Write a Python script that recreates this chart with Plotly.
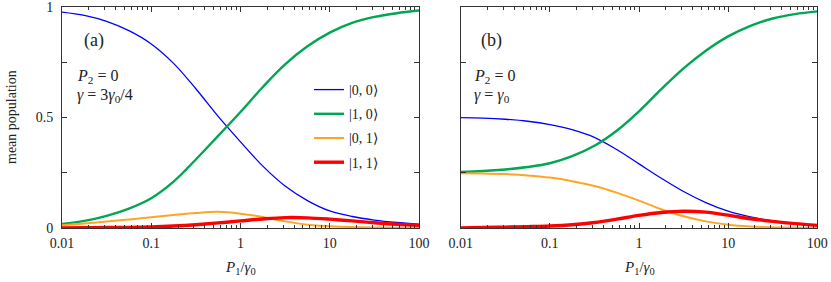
import plotly.graph_objects as go

# P1/gamma0 sample points (quarter decades from 0.01 to 100)
p1 = [0.01, 0.0178, 0.0316, 0.0562, 0.1, 0.178, 0.316, 0.562, 1.0,
      1.78, 3.16, 5.62, 10.0, 17.8, 31.6, 56.2, 100.0]

# panel (a): P2 = 0, gamma = 3 gamma0/4
a_00 = [0.977, 0.962, 0.935, 0.893, 0.833, 0.745, 0.630, 0.505, 0.390,
        0.280, 0.190, 0.124, 0.077, 0.052, 0.036, 0.025, 0.017]
a_10 = [0.018, 0.032, 0.055, 0.088, 0.135, 0.210, 0.310, 0.417, 0.525,
        0.638, 0.740, 0.822, 0.884, 0.928, 0.955, 0.972, 0.984]
a_01 = [0.012, 0.020, 0.029, 0.039, 0.049, 0.059, 0.068, 0.073, 0.065,
        0.050, 0.030, 0.015, 0.008, 0.004, 0.002, 0.001, 0.000]
a_11 = [0.000, 0.001, 0.002, 0.003, 0.005, 0.009, 0.015, 0.023, 0.032,
        0.041, 0.047, 0.046, 0.040, 0.032, 0.024, 0.017, 0.012]

# panel (b): P2 = 0, gamma = gamma0
b_00 = [0.499, 0.497, 0.492, 0.483, 0.468, 0.445, 0.410, 0.355, 0.290,
        0.225, 0.165, 0.115, 0.076, 0.050, 0.032, 0.020, 0.012]
b_10 = [0.254, 0.258, 0.265, 0.276, 0.293, 0.325, 0.372, 0.440, 0.528,
        0.628, 0.722, 0.802, 0.867, 0.915, 0.948, 0.968, 0.980]
b_01 = [0.248, 0.247, 0.244, 0.238, 0.228, 0.212, 0.190, 0.160, 0.124,
        0.085, 0.053, 0.030, 0.015, 0.007, 0.003, 0.001, 0.000]
b_11 = [0.000, 0.002, 0.004, 0.006, 0.009, 0.015, 0.025, 0.040, 0.057,
        0.070, 0.076, 0.072, 0.058, 0.042, 0.030, 0.020, 0.012]

names = ["|0, 0⟩", "|1, 0⟩", "|0, 1⟩", "|1, 1⟩"]
colors = ["#0000ff", "#00a651", "#ffa526", "#ff0000"]
widths = [1.3, 2.4, 2.0, 3.4]

xticks = [0.01, 0.1, 1, 10, 100]
xticktext = ["0.01", "0.1", "1", "10", "100"]
minor_x = [m * 10 ** e for e in range(-2, 2) for m in range(2, 10)]
yticks = [0, 0.5, 1]
yticktext = ["0", "0.5", "1"]
minor_y = [0.25, 0.75]

FONT = "Liberation Serif"
TXT = "#222222"

fig = go.Figure()
for i, ys in enumerate([a_00, a_10, a_01, a_11]):
    fig.add_trace(go.Scatter(x=p1, y=ys, mode="lines", name=names[i],
                             line=dict(color=colors[i], width=widths[i], shape="spline", smoothing=1.0),
                             xaxis="x", yaxis="y", legendgroup=str(i)))
for i, ys in enumerate([b_00, b_10, b_01, b_11]):
    fig.add_trace(go.Scatter(x=p1, y=ys, mode="lines", name=names[i], showlegend=False,
                             line=dict(color=colors[i], width=widths[i], shape="spline", smoothing=1.0),
                             xaxis="x2", yaxis="y2", legendgroup=str(i)))

W, H = 831, 282
mt, mb = 7, 54
ph = H - mt - mb

def px(x):
    return x / W

def py(y):
    return (H - mb - y) / ph

xax = dict(type="log", range=[-2, 2], tickmode="array", tickvals=xticks, ticktext=xticktext,
           ticks="inside", ticklen=5, tickwidth=1, tickcolor="#333", showline=True, linecolor="#333",
           linewidth=1, mirror="ticks", showgrid=False, zeroline=False, automargin=False,
           ticklabelstandoff=2, ticklabeloverflow="allow",
           tickfont=dict(family=FONT, size=14, color=TXT),
           minor=dict(tickmode="array", tickvals=minor_x, ticks="inside", ticklen=3, tickcolor="#333"))
yax = dict(range=[0, 1], tickmode="array", tickvals=yticks, ticktext=yticktext,
           ticks="inside", ticklen=5, tickwidth=1, tickcolor="#333", showline=True, linecolor="#333",
           linewidth=1, mirror="ticks", showgrid=False, zeroline=False, automargin=False,
           ticklabelstandoff=5, ticklabeloverflow="allow",
           tickfont=dict(family=FONT, size=14, color=TXT),
           minor=dict(tickmode="array", tickvals=minor_y, ticks="inside", ticklen=5, tickcolor="#333"))

fig.update_layout(
    width=W, height=H, margin=dict(l=0, r=0, t=mt, b=mb, autoexpand=False),
    plot_bgcolor="white", paper_bgcolor="white",
    xaxis=dict(xax, domain=[px(62), px(419)], anchor="y"),
    yaxis=dict(yax, domain=[0, 1], anchor="x"),
    xaxis2=dict(xax, domain=[px(460.7), px(817.3)], anchor="y2"),
    yaxis2=dict(yax, domain=[0, 1], anchor="x2", showticklabels=False),
    showlegend=True,
    legend=dict(x=px(309), y=py(74), xanchor="left", yanchor="top", bgcolor="rgba(0,0,0,0)",
                font=dict(family=FONT, size=14, color=TXT), traceorder="grouped", tracegroupgap=3),
    font=dict(family=FONT, color=TXT),
)

ann = [
    dict(x=px(94), y=py(40), text="(a)", size=18),
    dict(x=px(75), y=py(76), text="<i>P</i><sub>2</sub> = 0", size=16, xanchor="left"),
    dict(x=px(75), y=py(95), text="<i>γ</i> = 3<i>γ</i><sub>0</sub>/4", size=16, xanchor="left"),
    dict(x=px(491), y=py(40), text="(b)", size=18),
    dict(x=px(472), y=py(76), text="<i>P</i><sub>2</sub> = 0", size=16, xanchor="left"),
    dict(x=px(472), y=py(95), text="<i>γ</i> = <i>γ</i><sub>0</sub>", size=16, xanchor="left"),
    dict(x=px(240), y=py(268), text="<i>P</i><sub>1</sub>/<i>γ</i><sub>0</sub>", size=15),
    dict(x=px(639), y=py(268), text="<i>P</i><sub>1</sub>/<i>γ</i><sub>0</sub>", size=15),
    dict(x=px(11), y=py(117), text="mean population", size=14, textangle=-90),
]
for a in ann:
    fig.add_annotation(x=a["x"], y=a["y"], xref="paper", yref="paper", text=a["text"], showarrow=False,
                       xanchor=a.get("xanchor", "center"), yanchor="middle", textangle=a.get("textangle", 0),
                       font=dict(family=FONT, size=a["size"], color=TXT))

fig.write_html("out.html", config={"displayModeBar": False},
               post_script="document.body.style.margin='0';document.body.style.overflow='hidden';")
